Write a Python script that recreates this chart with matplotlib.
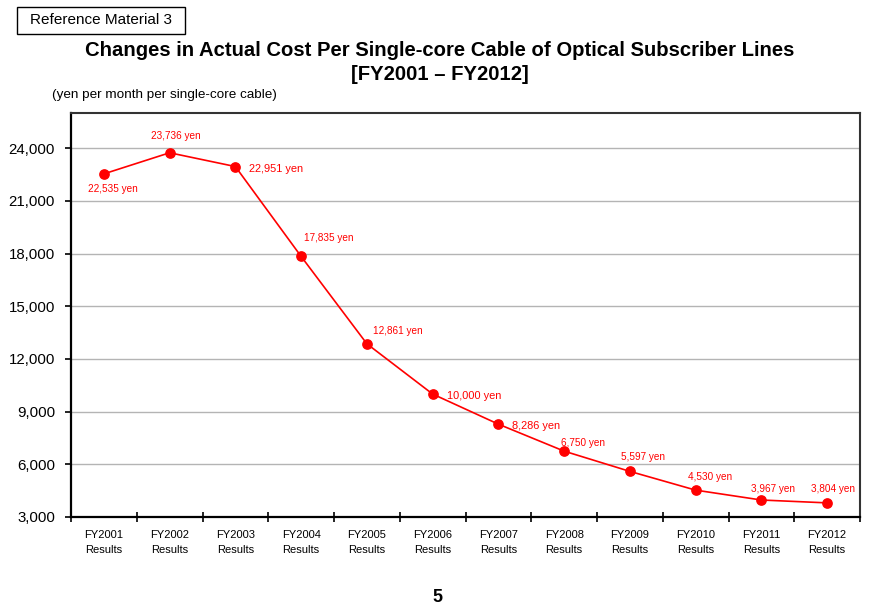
import matplotlib
matplotlib.use("Agg")
import matplotlib.pyplot as plt
from matplotlib.patches import Rectangle
from matplotlib.ticker import FuncFormatter, FixedLocator
import numpy as np

plt.rcParams['font.family'] = ['Liberation Sans', 'DejaVu Sans']

years = ["FY2001", "FY2002", "FY2003", "FY2004", "FY2005", "FY2006",
         "FY2007", "FY2008", "FY2009", "FY2010", "FY2011", "FY2012"]
costs = [22535, 23736, 22951, 17835, 12861, 10000, 8286, 6750, 5597, 4530, 3967, 3804]
# label placement (left edge / baseline offset in pixels from the point) and size
label_offsets = [(-15.6, -18), (-18.6, 14), (13.3, -5), (2.6, 15.5), (5.7, 9.8), (14, -5),
                 (13.4, -5), (-2.7, 5.2), (-8.7, 11.2), (-7.6, 9.8), (-10, 8.1), (-15.7, 10.8)]
label_sizes = [7.2, 7.2, 7.9, 7.2, 7.2, 7.9, 7.9, 7.2, 7.2, 7.2, 7.2, 7.2]
yticks = [3000, 6000, 9000, 12000, 15000, 18000, 21000, 24000]

fig = plt.figure(figsize=(8.8, 6.09), dpi=100)
ax = fig.add_axes([71/880, 1-517/609, (860-71)/880, (517-113)/609])

x = np.arange(len(years))
ax.plot(x, costs, color='#ff0000', lw=1.2, marker='o', ms=6.7, zorder=3)
for xi, v, off, fs in zip(x, costs, label_offsets, label_sizes):
    ax.annotate(f"{v:,} yen", (xi, v), xytext=off, textcoords='offset pixels',
                ha='left', va='baseline', color='#ff0000', fontsize=fs)

ax.set_xlim(-0.5, len(years)-0.5)
ax.set_ylim(3000, 26000)
ax.set_yticks(yticks)
ax.yaxis.set_major_formatter(FuncFormatter(lambda v, p: f"{int(v):,}"))
ax.grid(axis='y', color='#b4b4b4', lw=1)
ax.set_axisbelow(True)
ax.tick_params(axis='y', labelsize=10.8, direction='out', length=4, width=1.2, pad=7.5)

ax.xaxis.set_major_locator(FixedLocator(np.arange(-0.5, len(years), 1)))
ax.xaxis.set_major_formatter(FuncFormatter(lambda v, p: ""))
ax.tick_params(axis='x', direction='inout', length=7, width=1.2)
ax.set_xticks(x, minor=True)
ax.set_xticklabels([f"{y}\nResults" for y in years], minor=True, fontsize=8, linespacing=1.6)
ax.tick_params(axis='x', which='minor', length=0, pad=9.5)

for s in ['left', 'bottom']:
    ax.spines[s].set_linewidth(1.6)
    ax.spines[s].set_color('black')
for s in ['top', 'right']:
    ax.spines[s].set_linewidth(1.5)
    ax.spines[s].set_color('#333333')

fig.text(0.5, 1-50/609, "Changes in Actual Cost Per Single-core Cable of Optical Subscriber Lines",
         ha='center', va='center', fontsize=14.6, fontweight='bold')
fig.text(0.5, 1-75/609, "[FY2001 \u2013 FY2012]", ha='center', va='center',
         fontsize=14.6, fontweight='bold')
fig.text(52/880, 1-95/609, "(yen per month per single-core cable)", ha='left', va='center',
         fontsize=9.7)
fig.patches.append(Rectangle((17/880, 1-34/609), 168/880, 27/609, transform=fig.transFigure,
                             fc='white', ec='black', lw=1))
fig.text(101/880, 1-20.5/609, "Reference Material 3", ha='center', va='center', fontsize=11)
fig.text(437/880, 1-598/609, "5", ha='center', va='center', fontsize=13, fontweight='bold')

fig.savefig("out.png", dpi=100)
